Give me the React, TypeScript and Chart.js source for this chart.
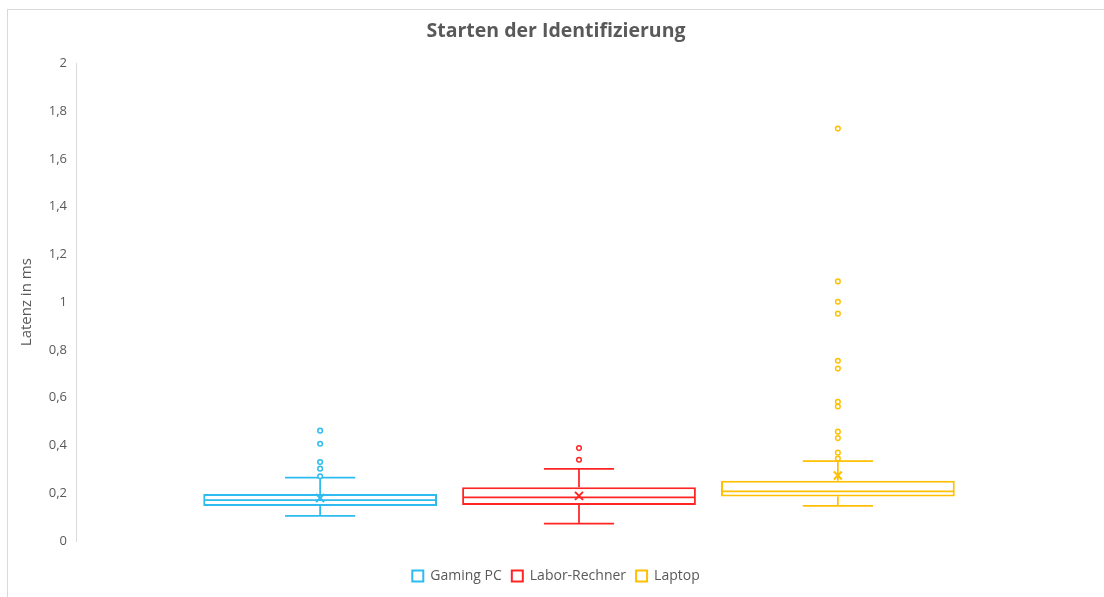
import React, { useEffect, useRef } from "react";
import { Chart, registerables } from "chart.js";

Chart.register(...registerables);

const chartTitle = "Starten der Identifizierung";
const yAxisTitle = "Latenz in ms";
const categoryLabels = [""];
const seriesNames = ["Gaming PC", "Labor-Rechner", "Laptop"];
const seriesColors = ["#2EBBEF", "#FF2525", "#FFC000"];

const whiskerMin = [0.105, 0.073, 0.147];
const q1Values = [0.147, 0.151, 0.186];
const medianValues = [0.171, 0.183, 0.208];
const q3Values = [0.197, 0.225, 0.252];
const whiskerMax = [0.265, 0.302, 0.335];
const meanValues = [0.18, 0.189, 0.274];

const outliersGaming = [0.271, 0.303, 0.331, 0.407, 0.462];
const outliersLabor = [0.34, 0.389];
const outliersLaptop = [0.345, 0.37, 0.431, 0.458, 0.563, 0.583, 0.722, 0.755, 0.952, 1.002, 1.087, 1.727];
const outlierLists = [outliersGaming, outliersLabor, outliersLaptop];

const yMin = 0;
const yMax = 2;
const yStep = 0.2;

const FONT = "'Open Sans', 'Noto Sans', sans-serif";
const TEXT = "#595959";

const boxDetailsPlugin = {
  id: "boxDetails",
  afterDatasetsDraw(chart: any) {
    const ctx = chart.ctx;
    const y = chart.scales.y;
    seriesNames.forEach((_, i) => {
      const meta = chart.getDatasetMeta(i);
      if (!chart.isDatasetVisible(i)) return;
      const bar = meta.data[0];
      if (!bar) return;
      const { x, width } = bar.getProps(["x", "width"], true);
      const color = seriesColors[i];
      const cap = width * 0.3;
      const py = (v: number) => y.getPixelForValue(v);
      ctx.save();
      ctx.strokeStyle = color;
      ctx.lineWidth = 1.75;
      ctx.beginPath();
      // median
      ctx.moveTo(x - width / 2 + 1, py(medianValues[i]));
      ctx.lineTo(x + width / 2 - 1, py(medianValues[i]));
      // upper whisker
      ctx.moveTo(x, py(q3Values[i]));
      ctx.lineTo(x, py(whiskerMax[i]));
      ctx.moveTo(x - cap / 2, py(whiskerMax[i]));
      ctx.lineTo(x + cap / 2, py(whiskerMax[i]));
      // lower whisker
      ctx.moveTo(x, py(q1Values[i]));
      ctx.lineTo(x, py(whiskerMin[i]));
      ctx.moveTo(x - cap / 2, py(whiskerMin[i]));
      ctx.lineTo(x + cap / 2, py(whiskerMin[i]));
      ctx.stroke();
      // mean cross
      const my = py(meanValues[i]);
      const s = 4;
      ctx.lineWidth = 2;
      ctx.beginPath();
      ctx.moveTo(x - s, my - s);
      ctx.lineTo(x + s, my + s);
      ctx.moveTo(x - s, my + s);
      ctx.lineTo(x + s, my - s);
      ctx.stroke();
      // outliers
      ctx.lineWidth = 1.5;
      ctx.fillStyle = "#ffffff";
      outlierLists[i].forEach((v) => {
        ctx.beginPath();
        ctx.arc(x, py(v), 2.3, 0, Math.PI * 2);
        ctx.fill();
        ctx.stroke();
      });
      ctx.restore();
    });
  },
};

export default function App() {
  const canvasRef = useRef<HTMLCanvasElement | null>(null);

  useEffect(() => {
    if (!canvasRef.current) return;
    const chart = new Chart(canvasRef.current, {
      type: "bar",
      data: {
        labels: categoryLabels,
        datasets: seriesNames.map((name, i) => ({
          label: name,
          data: [[q1Values[i], q3Values[i]]] as any,
          backgroundColor: "#ffffff",
          borderColor: seriesColors[i],
          borderWidth: 2,
          borderSkipped: false,
          categoryPercentage: 0.772,
          barPercentage: 0.903,
        })),
      },
      options: {
        responsive: false,
        animation: false,
        layout: { padding: { left: 0, right: 0, top: 0, bottom: 4 } },
        plugins: {
          title: {
            display: true,
            text: chartTitle,
            color: TEXT,
            font: { family: FONT, size: 19.5, weight: "bold" },
            padding: { top: 12, bottom: 20 },
          },
          legend: {
            position: "bottom",
            labels: {
              color: TEXT,
              font: { family: FONT, size: 14 },
              boxWidth: 11,
              boxHeight: 11,
              padding: 10,
            },
          },
          tooltip: { enabled: false },
        },
        scales: {
          x: {
            display: true,
            grid: { display: false },
            border: { display: false },
            ticks: { display: false },
            afterFit: (scale: any) => {
              scale.height = 18;
            },
          },
          y: {
            min: yMin,
            max: yMax,
            grid: { display: false },
            border: { display: true, color: "#D9D9D9", width: 1 },
            ticks: {
              stepSize: yStep,
              color: TEXT,
              font: { family: FONT, size: 13 },
              padding: 1,
              callback: (v: any) =>
                Number(v).toLocaleString("de-DE", { maximumFractionDigits: 1 }),
            },
            title: {
              display: true,
              text: yAxisTitle,
              color: TEXT,
              font: { family: FONT, size: 15 },
              padding: { top: 10, bottom: 0 },
            },
            afterFit: (scale: any) => {
              scale.width = 68;
            },
          },
          yRight: {
            position: "right",
            display: true,
            min: yMin,
            max: yMax,
            grid: { display: false },
            border: { display: false },
            ticks: { display: false },
            afterFit: (scale: any) => {
              scale.width = 22;
            },
          },
        },
      },
      plugins: [boxDetailsPlugin],
    });
    return () => chart.destroy();
  }, []);

  return (
    <div
      style={{
        position: "fixed",
        left: 0,
        top: 0,
        width: 1104,
        height: 597,
        overflow: "hidden",
        background: "#ffffff",
      }}
    >
      <div
        style={{
          position: "absolute",
          left: 7,
          top: 9,
          width: 1097,
          height: 588,
          boxSizing: "border-box",
          borderTop: "1px solid #D9D9D9",
          borderLeft: "1px solid #D9D9D9",
        }}
      />
      <canvas
        ref={canvasRef}
        width={1096}
        height={589}
        style={{ position: "absolute", left: 8, top: 8 }}
      />
    </div>
  );
}
